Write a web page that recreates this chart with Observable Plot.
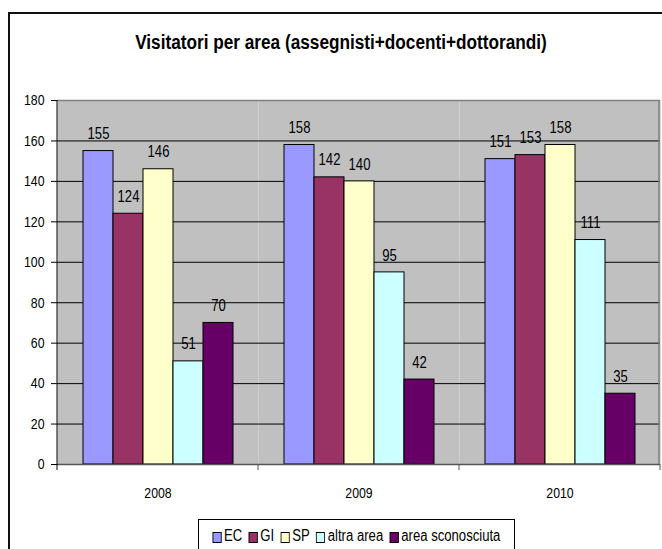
<!DOCTYPE html>
<html>
<head>
<meta charset="utf-8">
<script src="https://cdn.jsdelivr.net/npm/d3@7"></script>
<script src="https://cdn.jsdelivr.net/npm/@observablehq/plot@0.6"></script>
<style>
  html, body { margin: 0; padding: 0; background: #fff; }
  body { width: 662px; height: 549px; overflow: hidden; position: relative;
         font-family: "Liberation Sans", Arial, sans-serif; }
  #border { position: absolute; left: 8px; top: 12px; width: 700px; height: 600px;
            border: 2px solid #111; box-sizing: border-box; }
  #title { position: absolute; left: 8px; width: 666px; top: 32px; text-align: center;
           font-weight: bold; font-size: 20px; color: #000; line-height: 20px; white-space: nowrap;
           transform: scaleX(0.86); transform-origin: 333px 50%; }
  #chart { position: absolute; left: 0; top: 80px; }
  #legend { position: absolute; left: 198px; top: 519px; width: 317px; height: 40px;
            border: 1px solid #000; box-sizing: border-box; }
  #legendInner { position: absolute; left: 0; width: 315px; top: 7px; display: flex;
            justify-content: center; align-items: center; white-space: nowrap;
            font-size: 16px; color: #000; line-height: 18px;
            transform: scaleX(0.82); transform-origin: 50% 50%; }
  .item { display: flex; align-items: center; margin: 0 4px; }
  .sw { width: 9px; height: 9px; border: 1px solid #000; margin-right: 3px; margin-top: 2px; }
  #chart svg text.axislab { font-size: 15px !important; }
</style>
</head>
<body>
<div id="border"></div>
<div id="title">Visitatori per area (assegnisti+docenti+dottorandi)</div>
<div id="chart"></div>
<div id="legend"><div id="legendInner"></div></div>
<script>
const years = ["2008", "2009", "2010"];
const series = ["EC", "GI", "SP", "altra area", "area sconosciuta"];
const colors = ["#9999ff", "#993366", "#ffffcc", "#ccffff", "#660066"];
const valuesEC = [155, 158, 151];
const valuesGI = [124, 142, 153];
const valuesSP = [146, 140, 158];
const valuesAltra = [51, 95, 111];
const valuesSconosciuta = [70, 42, 35];
const yTicks = [0, 20, 40, 60, 80, 100, 120, 140, 160, 180];

const seriesValues = [valuesEC, valuesGI, valuesSP, valuesAltra, valuesSconosciuta];
const data = [];
years.forEach((yr, i) => series.forEach((s, j) => data.push({year: yr, series: s, value: seriesValues[j][i]})));

const font = "Liberation Sans, Arial, sans-serif";

const plot = Plot.plot({
  width: 662,
  height: 420,
  marginLeft: 56,
  marginRight: 2,
  marginTop: 20,
  marginBottom: 36,
  style: {fontFamily: font, fontSize: "15px", color: "#000", background: "transparent"},
  fx: {domain: years, paddingInner: 0, paddingOuter: 0, label: null},
  x: {domain: series, paddingInner: 0, paddingOuter: 0.75, axis: null},
  y: {domain: [0, 180], ticks: yTicks, label: null},
  color: {domain: series, range: colors},
  marks: [
    Plot.frame({fill: "#c0c0c0", stroke: null}),
    Plot.gridY(yTicks.filter(t => t > 0 && t < 180), {stroke: "#000", strokeOpacity: 1, strokeWidth: 1}),
    Plot.ruleY([180], {stroke: "#808080", strokeWidth: 1.5}),
    Plot.barY(data, {fx: "year", x: "series", y: "value", fill: "series", stroke: "#000", strokeWidth: 1}),
    Plot.text(data, {fx: "year", x: "series", y: "value", text: d => String(d.value),
                     lineAnchor: "middle", dy: -17, fontSize: 16, fill: "#000"}),
    Plot.ruleY([0], {stroke: "#555", strokeWidth: 1.5}),
    Plot.axisY({ticks: yTicks, tickSize: 6, tickPadding: 7, label: null, fontSize: 15, stroke: "#000"}),
    Plot.axisFx({anchor: "bottom", tickSize: 0, tickPadding: 23, label: null, fontSize: 15})
  ]
});
document.getElementById("chart").appendChild(plot);

// Narrow the text (the reference uses a condensed face), scaling about each label's own anchor;
// axis labels get the same size as in the reference
const squeeze = 0.82;
plot.querySelectorAll("text").forEach(el => {
  const owner = el.closest("g[aria-label]");
  const role = owner ? owner.getAttribute("aria-label") : "";
  if (role !== "text") {
    el.classList.add("axislab");
    el.setAttribute("font-size", "15");
    el.style.fontSize = "15px";
  }
  const tr = el.getAttribute("transform");
  if (tr) {
    el.setAttribute("transform", tr + ` scale(${squeeze},1)`);
  } else {
    const x = +(el.getAttribute("x") || 0);
    el.setAttribute("transform", `translate(${x},0) scale(${squeeze},1) translate(${-x},0)`);
  }
});

// Decorations derived from the plot's own scales: category boundary ticks, left axis line, right border
const fx = plot.scale("fx");
const y = plot.scale("y");
const svg = d3.select(plot);
const bounds = fx.domain.map(d => fx.apply(d)).concat([fx.apply(fx.domain[fx.domain.length - 1]) + fx.bandwidth]);
const y0 = y.apply(0), yTop = y.apply(180);
svg.append("g").selectAll("line").data(bounds).join("line")
  .attr("x1", d => d).attr("x2", d => d)
  .attr("y1", y0).attr("y2", y0 + 6)
  .attr("stroke", (d, i) => i === 0 ? "#000" : "#555");
svg.append("line").attr("x1", bounds[0]).attr("x2", bounds[0]).attr("y1", yTop).attr("y2", y0)
  .attr("stroke", "#000");
svg.append("line").attr("x1", bounds[bounds.length - 1] - 1).attr("x2", bounds[bounds.length - 1] - 1)
  .attr("y1", yTop).attr("y2", y0).attr("stroke", "#808080").attr("stroke-width", 1.5);

// Legend
const legend = document.getElementById("legendInner");
series.forEach((s, i) => {
  const it = document.createElement("div");
  it.className = "item";
  const sw = document.createElement("span");
  sw.className = "sw";
  sw.style.background = colors[i];
  const t = document.createElement("span");
  t.textContent = s;
  it.appendChild(sw); it.appendChild(t);
  legend.appendChild(it);
});
</script>
</body>
</html>
